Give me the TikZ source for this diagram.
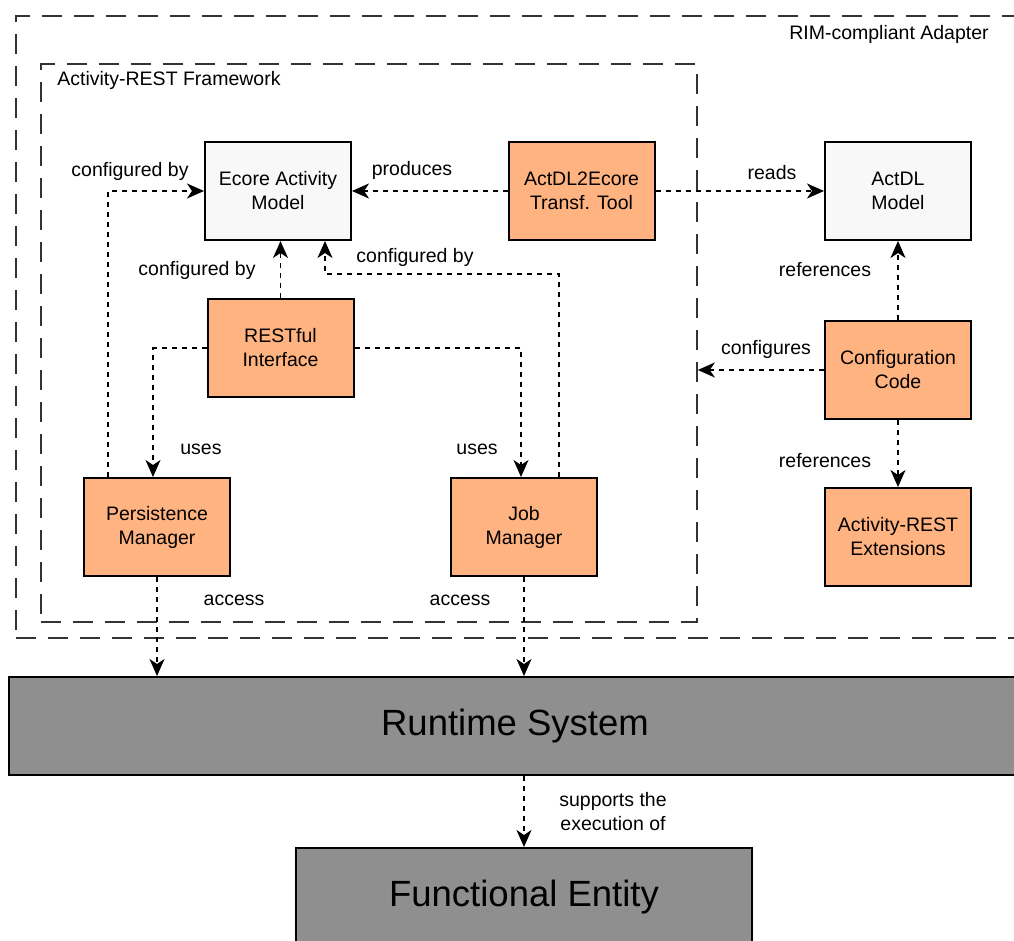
\documentclass[tikz,border=0pt]{standalone}
\usepackage{fontspec}
\setmainfont{Liberation Sans}
\usetikzlibrary{arrows.meta}
\definecolor{orangefill}{HTML}{FFB380}
\definecolor{lightfill}{HTML}{F8F8F8}
\definecolor{greyfill}{HTML}{8F8F8F}
\definecolor{framecol}{HTML}{333333}
\tikzset{
  every node/.style={font=\fontsize{19.5}{24}\selectfont},
  box/.style={draw=black, line width=2pt, minimum width=146pt, minimum height=98pt,
              align=center, inner sep=0pt},
  orangebox/.style={box, fill=orangefill},
  lightbox/.style={box, fill=lightfill},
  greybox/.style={draw=black, line width=2pt, fill=greyfill, inner sep=0pt,
                  font=\fontsize{36.5}{44}\selectfont},
  frame/.style={draw=framecol, line width=1.6pt, dash pattern=on 20pt off 12pt,
                inner sep=0pt},
  conn/.style={draw=black, line width=1.6pt, dash pattern=on 5pt off 5pt,
               -{Stealth[length=17pt,width=15pt,inset=5pt]}},
  lbl/.style={inner sep=0pt, align=center},
}
\begin{document}
\begin{tikzpicture}[x=1pt, y=-1pt]
\useasboundingbox (0,0) rectangle (1014,941);
\clip (0,0) rectangle (1014,941);

% enclosing frames
\node[frame, minimum width=1024pt, minimum height=622pt] (rim) at (528,327) {};
\node[frame, minimum width=656pt, minimum height=558pt] (arf) at (369,343) {};
\node[lbl] (rimlbl) at (889,34) {RIM-compliant Adapter};
\node[lbl] (arflbl) at (169,80) {Activity-REST Framework};

% components
\node[lightbox]  (eam) at (278,191)   {Ecore Activity\\Model};
\node[orangebox] (tt)  at (581.5,191) {ActDL2Ecore\\Transf. Tool};
\node[lightbox]  (ad)  at (898,191)   {ActDL\\Model};
\node[orangebox] (ri)  at (280.5,348) {RESTful\\Interface};
\node[orangebox] (cc)  at (898,370)   {Configuration\\Code};
\node[orangebox] (pm)  at (157,527)   {Persistence\\Manager};
\node[orangebox] (jm)  at (524,527)   {Job\\Manager};
\node[orangebox] (ext) at (898,537)   {Activity-REST\\Extensions};
\node[greybox, minimum width=1012pt, minimum height=98pt] (rs) at (515,726) {Runtime System};
\node[greybox, minimum width=456pt, minimum height=98pt] (fe) at (524,897) {Functional Entity};

% connectors
\draw[conn] (tt.west) -- (eam.east);
\draw[conn] (tt.east) -- (ad.west);
\draw[conn] ([xshift=-49pt]pm.north) |- (eam.west);
\draw[conn] (ri.north) -- (ri.north |- eam.south);
\draw[conn] ([xshift=35pt]jm.north) |- ([xshift=47pt,yshift=-33pt]eam.south)
            -- ([xshift=47pt]eam.south);
\draw[conn] (ri.west) -| ([xshift=-4pt]pm.north);
\draw[conn] (ri.east) -| ([xshift=-3pt]jm.north);
\draw[conn] (pm.south) -- (pm.south |- rs.north);
\draw[conn] (jm.south) -- (jm.south |- rs.north);
\draw[conn] (cc.north) -- (ad.south);
\draw[conn] (cc.west) -- (cc.west -| arf.east);
\draw[conn] (cc.south) -- (ext.north);
\draw[conn] (rs.south -| fe.north) -- (fe.north);

% connector labels
\node[lbl] (l1)  at (130,171) {configured by};
\node[lbl] (l2)  at (412,170) {produces};
\node[lbl] (l3)  at (772,173) {reads};
\node[lbl] (l4)  at (197,270) {configured by};
\node[lbl] (l5)  at (415,257) {configured by};
\node[lbl] (l6)  at (201,449) {uses};
\node[lbl] (l7)  at (477,449) {uses};
\node[lbl] (l8)  at (234,600) {access};
\node[lbl] (l9)  at (460,600) {access};
\node[lbl] (l10) at (825,270) {references};
\node[lbl] (l11) at (766,349) {configures};
\node[lbl] (l12) at (825,461) {references};
\node[lbl] (l13) at (613,812) {supports the\\execution of};
\end{tikzpicture}
\end{document}
